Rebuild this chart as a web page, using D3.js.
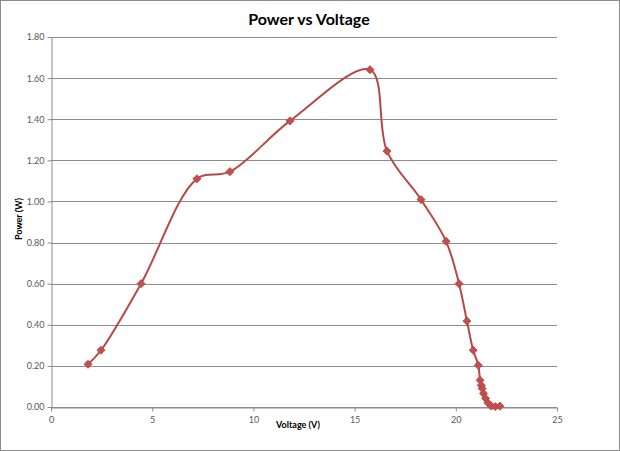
<!DOCTYPE html>
<html>
<head>
<meta charset="utf-8">
<script src="https://cdn.jsdelivr.net/npm/d3@7"></script>
<style>
  body { margin: 0; background: #fff; }
  svg { display: block; }
  .tick text { font-family: Lato, "Open Sans", sans-serif; font-size: 9px; fill: #595959; }
</style>
</head>
<body>
<svg class="chart" width="620" height="451"></svg>
<script>
var voltage = [1.83, 2.47, 4.45, 7.21, 8.84, 11.81, 15.76, 16.6, 18.28, 19.52, 20.16, 20.55,
  20.86, 21.11, 21.2, 21.26, 21.3, 21.37, 21.47, 21.59, 21.75, 21.95, 22.18]
var power = [0.208, 0.276, 0.600, 1.110, 1.145, 1.392, 1.641, 1.245, 1.009, 0.806, 0.600, 0.418,
  0.276, 0.203, 0.130, 0.106, 0.090, 0.066, 0.042, 0.020, 0.005, 0.002, 0.004]
var xTicks = [0, 5, 10, 15, 20, 25]
var yTicks = [0, 0.2, 0.4, 0.6, 0.8, 1.0, 1.2, 1.4, 1.6, 1.8]

var data = voltage.map(function(v, i) { return {v: v, p: power[i]} })

var margin = {top: 37, left: 51}
var chartWidth = 506
var chartHeight = 370
var red = "#C0504D"

var svg = d3.select(".chart")

svg.append("rect")
  .attr("x", 0.5).attr("y", 0.5)
  .attr("width", 619).attr("height", 450)
  .attr("fill", "#fff")
  .attr("stroke", "#8c8c8c")

var x = d3.scaleLinear().domain([0, 25]).range([0, chartWidth])
var y = d3.scaleLinear().domain([0, 1.8]).range([chartHeight, 0])

var g = svg.append("g")
  .attr("transform", `translate(${margin.left},${margin.top})`)

// gridlines
g.append("g")
  .selectAll("line")
  .data(yTicks)
  .enter().append("line")
    .attr("x1", 0).attr("x2", chartWidth)
    .attr("y1", function(d) { return Math.round(y(d)) + 0.5 })
    .attr("y2", function(d) { return Math.round(y(d)) + 0.5 })
    .attr("stroke", "#8c8c8c")

var yAxis = g.append("g")
  .attr("transform", "translate(0.5,0)")
  .call(d3.axisLeft(y).tickValues(yTicks).tickFormat(d3.format(".2f")).tickSizeInner(4).tickSizeOuter(0).tickPadding(3))
yAxis.select(".domain").attr("stroke", "#8c8c8c")
yAxis.selectAll(".tick line").attr("stroke", "#8c8c8c")

var xAxis = g.append("g")
  .attr("transform", `translate(0,${Math.round(chartHeight) + 0.5})`)
  .call(d3.axisBottom(x).tickValues(xTicks).tickSizeInner(4).tickSizeOuter(0).tickPadding(5))
xAxis.select(".domain").attr("stroke", "#8c8c8c")
xAxis.selectAll(".tick line").attr("stroke", "#8c8c8c")

// smoothed line, roughly like the spreadsheet's
var line = d3.line()
  .x(function(d) { return x(d.v) })
  .y(function(d) { return y(d.p) })
  .curve(d3.curveCatmullRom.alpha(0.5))

g.append("path")
  .datum(data)
  .attr("fill", "none")
  .attr("stroke", "#B64A47")
  .attr("stroke-width", 2)
  .attr("stroke-linejoin", "round")
  .attr("d", line)

g.append("g")
  .selectAll("path")
  .data(data)
  .enter().append("path")
    .attr("d", d3.symbol().type(d3.symbolDiamond2).size(42))
    .attr("transform", function(d) { return `translate(${x(d.v)},${y(d.p)})` })
    .attr("fill", red)
    .attr("stroke", "#B04643")
    .attr("stroke-width", 0.8)

svg.append("text")
  .attr("x", 309).attr("y", 25)
  .attr("text-anchor", "middle")
  .attr("font-family", "Lato, 'Open Sans', sans-serif")
  .attr("font-weight", "bold")
  .attr("font-size", 16)
  .attr("fill", "#000")
  .text("Power vs Voltage")

svg.append("text")
  .attr("x", 298).attr("y", 428)
  .attr("text-anchor", "middle")
  .attr("font-family", "Lato, 'Open Sans', sans-serif")
  .attr("font-weight", "bold")
  .attr("font-size", 9)
  .attr("fill", "#000")
  .text("Voltage (V)")

svg.append("text")
  .attr("transform", "translate(22,219) rotate(-90)")
  .attr("text-anchor", "middle")
  .attr("font-family", "Lato, 'Open Sans', sans-serif")
  .attr("font-weight", "bold")
  .attr("font-size", 9)
  .attr("fill", "#000")
  .text("Power (W)")
</script>
</body>
</html>
